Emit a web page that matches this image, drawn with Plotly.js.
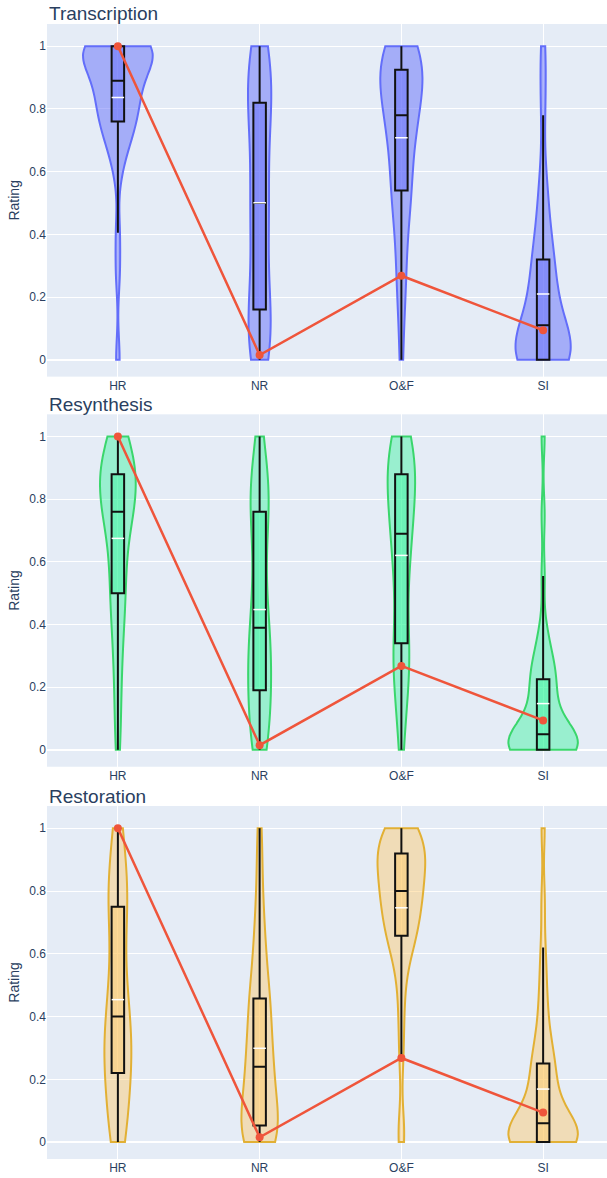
<!DOCTYPE html>
<html>
<head>
<meta charset="utf-8">
<script src="https://cdn.plot.ly/plotly-3.0.1.min.js"></script>
<style>
html, body { margin: 0; padding: 0; overflow: hidden; background: #ffffff; }
#chart { width: 614px; height: 1178px; }
path.mean, path.meanline { stroke-dasharray: none !important; }
</style>
</head>
<body>
<div id="chart"></div>
<script>
// ---------- data ----------
const categories = ['HR', 'NR', 'O&F', 'SI'];
const panelTitles = ['Transcription', 'Resynthesis', 'Restoration'];
const referenceLine = [1.0, 0.015, 0.268, 0.094];

const transcriptionHR = [0.0, 0.28, 0.405, 0.60, 0.65, 0.69, 0.71, 0.73, 0.745, 0.75, 0.77, 0.785, 0.80, 0.815, 0.83, 0.845, 0.855, 0.865, 0.875, 0.88, 0.90, 0.92, 0.935, 0.95, 0.96, 0.97, 0.98, 0.985, 0.99, 1, 1, 1, 1, 1, 1, 1, 1, 1, 1, 1];
const transcriptionNR = [0, 0, 0.01, 0.03, 0.05, 0.07, 0.09, 0.12, 0.14, 0.15, 0.17, 0.21, 0.25, 0.29, 0.33, 0.37, 0.41, 0.44, 0.47, 0.49, 0.51, 0.54, 0.58, 0.62, 0.66, 0.70, 0.73, 0.76, 0.79, 0.81, 0.83, 0.85, 0.87, 0.89, 0.92, 0.94, 0.96, 0.98, 1, 1];
const transcriptionOF = [0, 0.14, 0.22, 0.27, 0.33, 0.39, 0.44, 0.48, 0.51, 0.53, 0.55, 0.58, 0.61, 0.64, 0.67, 0.695, 0.72, 0.74, 0.755, 0.77, 0.79, 0.805, 0.82, 0.835, 0.85, 0.865, 0.88, 0.895, 0.91, 0.92, 0.93, 0.94, 0.95, 0.96, 0.97, 0.98, 0.99, 1, 1, 1];
const transcriptionSI = [0, 0, 0, 0, 0, 0, 0, 0, 0, 0, 0, 0.01, 0.02, 0.03, 0.045, 0.055, 0.065, 0.08, 0.09, 0.10, 0.12, 0.135, 0.155, 0.175, 0.195, 0.215, 0.24, 0.265, 0.285, 0.31, 0.33, 0.35, 0.385, 0.43, 0.48, 0.53, 0.60, 0.78, 0.90, 1.0];

const resynthesisHR = [0.0, 0.08, 0.16, 0.23, 0.29, 0.34, 0.39, 0.43, 0.46, 0.49, 0.51, 0.55, 0.58, 0.61, 0.64, 0.67, 0.70, 0.72, 0.74, 0.75, 0.77, 0.78, 0.79, 0.80, 0.815, 0.83, 0.845, 0.855, 0.865, 0.875, 0.885, 0.895, 0.905, 0.92, 0.935, 0.95, 0.965, 0.98, 1.0, 1.0];
const resynthesisNR = [0, 0, 0.02, 0.04, 0.06, 0.09, 0.11, 0.13, 0.16, 0.18, 0.20, 0.22, 0.24, 0.26, 0.28, 0.30, 0.32, 0.34, 0.36, 0.38, 0.40, 0.43, 0.46, 0.50, 0.54, 0.58, 0.62, 0.66, 0.70, 0.75, 0.77, 0.78, 0.795, 0.81, 0.83, 0.855, 0.88, 0.91, 0.95, 1.0];
const resynthesisOF = [0.0, 0.08, 0.13, 0.18, 0.22, 0.25, 0.27, 0.29, 0.315, 0.33, 0.35, 0.41, 0.46, 0.50, 0.54, 0.57, 0.60, 0.63, 0.66, 0.68, 0.70, 0.72, 0.74, 0.76, 0.78, 0.80, 0.82, 0.84, 0.86, 0.875, 0.885, 0.895, 0.91, 0.925, 0.94, 0.955, 0.97, 0.985, 1.0, 1.0];
const resynthesisSI = [0, 0, 0, 0, 0, 0, 0, 0, 0, 0, 0, 0.005, 0.01, 0.015, 0.02, 0.025, 0.03, 0.035, 0.04, 0.045, 0.055, 0.065, 0.08, 0.10, 0.12, 0.14, 0.16, 0.18, 0.20, 0.22, 0.23, 0.245, 0.26, 0.28, 0.31, 0.34, 0.39, 0.555, 0.75, 1.0];

const restorationHR = [0, 0, 0.02, 0.04, 0.07, 0.10, 0.13, 0.16, 0.185, 0.21, 0.23, 0.245, 0.26, 0.275, 0.29, 0.31, 0.33, 0.35, 0.37, 0.39, 0.41, 0.43, 0.46, 0.49, 0.52, 0.56, 0.60, 0.64, 0.69, 0.74, 0.76, 0.77, 0.78, 0.80, 0.83, 0.86, 0.90, 0.95, 1.0, 1.0];
const restorationNR = [0, 0, 0, 0.005, 0.01, 0.02, 0.025, 0.03, 0.04, 0.045, 0.06, 0.08, 0.10, 0.12, 0.14, 0.16, 0.18, 0.20, 0.22, 0.235, 0.245, 0.265, 0.29, 0.31, 0.33, 0.36, 0.39, 0.415, 0.435, 0.45, 0.465, 0.50, 0.54, 0.58, 0.62, 0.67, 0.72, 0.80, 0.90, 1.0];
const restorationOF = [0, 0.05, 0.27, 0.38, 0.47, 0.54, 0.59, 0.62, 0.64, 0.65, 0.665, 0.68, 0.70, 0.715, 0.73, 0.745, 0.76, 0.77, 0.785, 0.795, 0.805, 0.815, 0.83, 0.845, 0.86, 0.87, 0.885, 0.895, 0.905, 0.915, 0.925, 0.935, 0.945, 0.955, 0.965, 0.975, 0.985, 1, 1, 1];
const restorationSI = [0, 0, 0, 0, 0, 0, 0, 0, 0, 0, 0, 0.005, 0.01, 0.015, 0.02, 0.03, 0.035, 0.04, 0.05, 0.055, 0.065, 0.08, 0.10, 0.12, 0.14, 0.16, 0.18, 0.205, 0.225, 0.245, 0.255, 0.28, 0.31, 0.35, 0.40, 0.46, 0.53, 0.62, 0.77, 1.0];

// ---------- styles ----------
const panels = [
  { data: [transcriptionHR, transcriptionNR, transcriptionOF, transcriptionSI],
    bw: [0.069, 0.128, 0.101, 0.092],
    line: '#636EFA', fill: 'rgba(99,110,250,0.5)' },
  { data: [resynthesisHR, resynthesisNR, resynthesisOF, resynthesisSI],
    bw: [0.097, 0.117, 0.113, 0.065],
    line: 'rgb(58,214,108)', fill: 'rgba(40,245,150,0.4)' },
  { data: [restorationHR, restorationNR, restorationOF, restorationSI],
    bw: [0.117, 0.097, 0.076, 0.072],
    line: 'rgb(226,176,52)', fill: 'rgba(255,198,95,0.42)' }
];
const domains = [[0.6893, 1], [0.3456, 0.6561], [0, 0.3110]];
const font = 'Liberation Sans, Arial, sans-serif';
const ink = '#2a3f5f';

const traces = [];
const layout = {
  width: 614, height: 1178,
  margin: { l: 47, r: 0, t: 24, b: 19 },
  paper_bgcolor: '#ffffff', plot_bgcolor: '#E5ECF6',
  font: { family: font, size: 12, color: ink },
  showlegend: false,
  violinmode: 'overlay', violingap: 0.3,
  annotations: []
};

panels.forEach((p, i) => {
  const sfx = i === 0 ? '' : String(i + 1);
  p.data.forEach((vals, j) => {
    traces.push({
      type: 'violin',
      x: vals.map(() => categories[j]),
      y: vals,
      xaxis: 'x' + sfx, yaxis: 'y' + sfx,
      name: categories[j],
      scalegroup: 'panel' + i, scalemode: 'width',
      spanmode: 'hard', bandwidth: p.bw[j],
      points: false,
      line: { color: p.line, width: 2 },
      fillcolor: p.fill,
      box: { visible: true, width: 0.18, line: { color: '#111111', width: 2 } },
      meanline: { visible: true, color: 'white', width: 1.5 },
      hoverinfo: 'skip', showlegend: false
    });
  });
  traces.push({
    type: 'scatter', mode: 'lines+markers',
    x: categories, y: referenceLine,
    xaxis: 'x' + sfx, yaxis: 'y' + sfx,
    line: { color: '#EF553B', width: 2.5 },
    marker: { color: '#EF553B', size: 8 },
    showlegend: false
  });
  layout['xaxis' + sfx] = {
    domain: [0, 1], anchor: 'y' + sfx,
    type: 'category', categoryorder: 'array', categoryarray: categories,
    range: [-0.5, 3.5],
    showgrid: true, gridcolor: 'white', gridwidth: 1,
    zeroline: false, showline: false, ticks: '',
    tickfont: { size: 12, color: ink }
  };
  layout['yaxis' + sfx] = {
    domain: domains[i], anchor: 'x' + sfx,
    range: [-0.054, 1.071],
    tickvals: [0, 0.2, 0.4, 0.6, 0.8, 1],
    showgrid: true, gridcolor: 'white', gridwidth: 1,
    zeroline: true, zerolinecolor: 'white', zerolinewidth: 2,
    showline: false, ticks: '',
    tickfont: { size: 12, color: ink },
    title: { text: 'Rating', font: { size: 14, color: ink }, standoff: 6 }
  };
  layout.annotations.push({
    text: panelTitles[i], xref: 'paper', yref: 'paper',
    x: 0, y: domains[i][1], xanchor: 'left', yanchor: 'bottom', yshift: -2.5,
    showarrow: false, font: { size: 19, color: ink, family: font }
  });
});

Plotly.newPlot('chart', traces, layout, { displayModeBar: false, staticPlot: true });
</script>
</body>
</html>
